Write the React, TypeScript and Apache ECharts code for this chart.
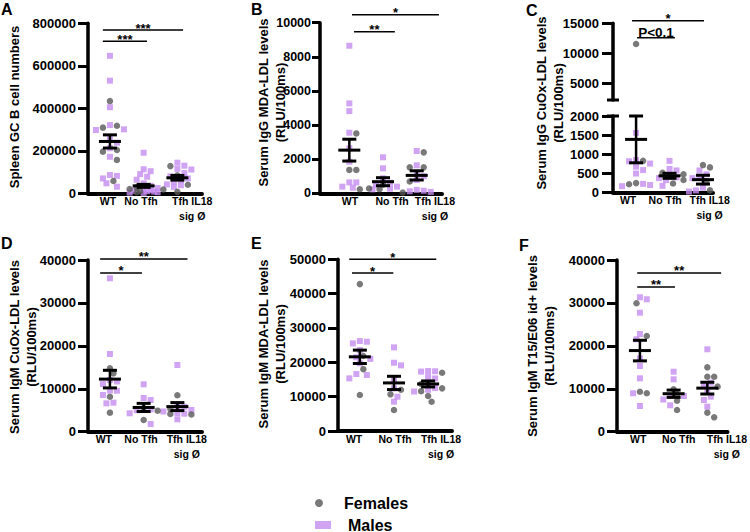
import React, { useEffect, useRef } from 'react';
import * as echarts from 'echarts';

// ---------- categories ----------
const GROUPS = ['WT', 'No Tfh', 'Tfh IL18\nsig Ø'];
const LEGEND = ['Females', 'Males'];

// ---------- Panel A: Spleen GC B cell numbers ----------
const A_WT_F = [434000, 318000, 309000, 204000, 196000, 157000, 58000];
const A_WT_M = [647000, 530000, 405000, 321000, 301000, 298000, 254000, 238000, 212000, 172000, 86000, 82000, 70000, 47000, 31000];
const A_NT_F = [28000, 20000, 10000, 5000];
const A_NT_M = [191000, 113000, 104000, 90000, 78000, 64000, 47000, 35000, 25000, 18000, 15000, 12000, 10000, 8000, 5000, 3000, 2000];
const A_TF_F = [128000, 85000, 40000, 18000, 7000];
const A_TF_M = [144000, 130000, 115000, 112000, 95000, 80000, 70000, 62000, 55000, 42000, 38000, 30000];
const A_MEAN = [244000, 35000, 73000];
const A_SEM = [31000, 7000, 11000];
const A_SIG = [[0.79, 3.17, 768000], [0.79, 2.1, 715000]];
const A_SIG_TEXT = ['***', '***'];

// ---------- Panel B: Serum IgG MDA-LDL ----------
const B_WT_F = [3510, 1370, 1370, 235];
const B_WT_M = [8650, 5270, 4820, 3550, 2640, 1850, 640, 640, 390, 330];
const B_NT_F = [500, 280, 240];
const B_NT_M = [2110, 1465, 880, 620, 500, 390, 270, 230];
const B_TF_F = [2400, 1520, 1520, 690, 50];
const B_TF_M = [2480, 1640, 1170, 1000, 780, 200, 120, 80, 150];
const B_MEAN = [2530, 680, 1050];
const B_SEM = [640, 235, 270];
const B_SIG = [[1.08, 3.66, 10470], [1.14, 2.35, 9470]];
const B_SIG_TEXT = ['*', '**'];

// ---------- Panel C: Serum IgG CuOx-LDL (broken axis) ----------
const C_WT_F = [11550, 830, 250, 220];
const C_WT_M = [1560, 850, 820, 760, 680, 590, 500, 230, 200, 170];
const C_NT_F = [520, 480, 330, 240];
const C_NT_M = [830, 620, 580, 420, 400, 380, 330, 180];
const C_TF_F = [720, 660, 470, 300, 60];
const C_TF_M = [580, 480, 400, 380, 300, 130, 60, 30, 30];
const C_MEAN = [1390, 440, 340];
const C_SEM = [610, 65, 115];
const C_SIG = [[0.88, 3.03, 15430], [1.03, 2.16, 12600]];
const C_SIG_TEXT = ['*', 'P<0.1'];
const C_UPPER_TICKS = [5000, 10000, 15000];

// ---------- Panel D: Serum IgM CuOx-LDL ----------
const D_WT_F = [14770, 13600, 8150, 4430];
const D_WT_M = [35740, 18100, 12050, 11700, 11100, 9600, 9550, 8550, 6760, 6600];
const D_NT_F = [5500, 4900, 2730];
const D_NT_M = [11040, 7850, 7390, 5220, 5000, 4290, 1790];
const D_TF_F = [8480, 5300, 4150, 4000];
const D_TF_M = [15540, 6000, 5800, 5060, 4720, 4300, 4200, 2880];
const D_MEAN = [12250, 5650, 5850];
const D_SEM = [2050, 950, 930];
const D_SIG = [[0.71, 3.3, 40240], [0.71, 1.95, 36980]];
const D_SIG_TEXT = ['**', '*'];

// ---------- Panel E: Serum IgM MDA-LDL ----------
const E_WT_F = [42780, 21830, 18000, 10480];
const E_WT_M = [26190, 26000, 25520, 23570, 21450, 21000, 19700, 16590, 16300, 15330];
const E_NT_F = [12000, 10680, 6110];
const E_NT_M = [24350, 19880, 19110, 15000, 12420, 9990, 8530];
const E_TF_F = [16970, 13680, 12420, 11600, 10190, 8530];
const E_TF_M = [17460, 17400, 17300, 15700, 15300, 13880, 12500, 12000, 11500];
const E_MEAN = [21600, 14000, 13700];
const E_SEM = [1950, 1930, 870];
const E_SIG = [[0.69, 3.24, 50050], [0.77, 1.98, 45980]];
const E_SIG_TEXT = ['*', '*'];

// ---------- Panel F: Serum IgM T15/E06 id+ ----------
const F_WT_F = [29920, 22300, 9320, 8950];
const F_WT_M = [31310, 30850, 27730, 22760, 21530, 17100, 15310, 12440, 8950, 5990];
const F_NT_F = [9880, 8700, 7220, 5060];
const F_NT_M = [13980, 12200, 8320, 8320, 7500, 6150];
const F_TF_F = [15000, 12810, 12810, 10500, 4430, 3350];
const F_TF_M = [19200, 11420, 11000, 9320, 8160, 7390, 5830];
const F_MEAN = [18900, 8850, 10150];
const F_SEM = [2400, 850, 1370];
const F_SIG = [[0.92, 3.41, 36980], [0.92, 2.04, 33710]];
const F_SIG_TEXT = ['**', '**'];

// ---------- styles ----------
const FEMALE_COLOR = '#575757';
const MALE_COLOR = '#c58cf0';
const FONT = '"Liberation Sans", Arial, Helvetica, sans-serif';

type Lay = {
  left: number; top: number; width: number; height: number;
  xMin: number; xMax: number; yMax: number; yInterval: number;
  labelX: number[]; tickLen: number; labelMargin: number; labelSize: number; letter: [number, number]; name: [number, number];
};

const PANELS = [
  { letter: 'A', name: 'Spleen GC B cell numbers', F: [A_WT_F, A_NT_F, A_TF_F], M: [A_WT_M, A_NT_M, A_TF_M], mean: A_MEAN, sem: A_SEM, sig: A_SIG, sigText: A_SIG_TEXT,
    lay: { left: 88, top: 23.3, width: 114, height: 170, xMin: 0.35, xMax: 3.73, yMax: 800000, yInterval: 200000, labelX: [0.94, 1.92, 3.44], tickLen: 10, labelMargin: 12, labelSize: 13, letter: [1, 1], name: [14, 107] } as Lay },
  { letter: 'B', name: 'Serum IgG MDA-LDL levels\n(RLU/100ms)', F: [B_WT_F, B_NT_F, B_TF_F], M: [B_WT_M, B_NT_M, B_TF_M], mean: B_MEAN, sem: B_SEM, sig: B_SIG, sigText: B_SIG_TEXT,
    lay: { left: 320, top: 22.7, width: 122, height: 170.6, xMin: 0.13, xMax: 3.75, yMax: 10000, yInterval: 2000, labelX: [1.02, 2.27, 3.54], tickLen: 8, labelMargin: 9, labelSize: 12.5, letter: [251, 1], name: [272, 102.5] } as Lay },
  { letter: 'C', name: 'Serum IgG CuOx-LDL levels\n(RLU/100ms)', F: [C_WT_F, C_NT_F, C_TF_F], M: [C_WT_M, C_NT_M, C_TF_M], mean: C_MEAN, sem: C_SEM, sig: C_SIG, sigText: C_SIG_TEXT,
    lay: { left: 613, top: 116, width: 100, height: 76.7, xMin: 0.31, xMax: 3.3, yMax: 2000, yInterval: 500, labelX: [0.76, 1.87, 3.2], tickLen: 11, labelMargin: 14, labelSize: 13, letter: [526, 2], name: [550, 103] } as Lay,
    upper: { top: 23.3, height: 76.7, yMin: 2200, yMax: 15000 } },
  { letter: 'D', name: 'Serum IgM CuOx-LDL levels\n(RLU/100ms)', F: [D_WT_F, D_NT_F, D_TF_F], M: [D_WT_M, D_NT_M, D_TF_M], mean: D_MEAN, sem: D_SEM, sig: D_SIG, sigText: D_SIG_TEXT,
    lay: { left: 88, top: 260, width: 114, height: 171.7, xMin: 0.35, xMax: 3.73, yMax: 40000, yInterval: 10000, labelX: [0.82, 1.92, 3.28], tickLen: 10, labelMargin: 12, labelSize: 13, letter: [1, 235], name: [23, 347] } as Lay },
  { letter: 'E', name: 'Serum IgM MDA-LDL levels\n(RLU/100ms)', F: [E_WT_F, E_NT_F, E_TF_F], M: [E_WT_M, E_NT_M, E_TF_M], mean: E_MEAN, sem: E_SEM, sig: E_SIG, sigText: E_SIG_TEXT,
    lay: { left: 338, top: 259.3, width: 114, height: 171.7, xMin: 0.36, xMax: 3.7, yMax: 50000, yInterval: 10000, labelX: [0.83, 2.03, 3.38], tickLen: 10, labelMargin: 12, labelSize: 13, letter: [251, 235], name: [271.5, 344] } as Lay },
  { letter: 'F', name: 'Serum IgM T15/E06 id+ levels\n(RLU/100ms)', F: [F_WT_F, F_NT_F, F_TF_F], M: [F_WT_M, F_NT_M, F_TF_M], mean: F_MEAN, sem: F_SEM, sig: F_SIG, sigText: F_SIG_TEXT,
    lay: { left: 617, top: 260, width: 113, height: 171.7, xMin: 0.32, xMax: 3.6, yMax: 40000, yInterval: 10000, labelX: [0.95, 2.15, 3.58], tickLen: 10, labelMargin: 12, labelSize: 13, letter: [519, 237], name: [540.5, 346] } as Lay },
];

// beeswarm layout (pixel space) -> x offsets in category units
function swarm(vals: number[], pxPerVal: number, pxPerUnit: number): number[] {
  const order = vals.map((_, i) => i).sort((a, b) => vals[b] - vals[a]);
  const placed: [number, number][] = [];
  const out = new Array(vals.length).fill(0);
  const cands = [0, 3.5, -3.5, 7, -7, 10.5, -10.5, 14, -14];
  const D = 6;
  for (const i of order) {
    const y = vals[i] * pxPerVal;
    let best = 0, bestD = -1;
    for (const c of cands) {
      let md = Infinity;
      for (const [px, py] of placed) md = Math.min(md, Math.hypot(px - c, py - y));
      if (md >= D) { best = c; break; }
      if (md > bestD) { bestD = md; best = c; }
    }
    placed.push([best, y]);
    out[i] = best / pxPerUnit;
  }
  return out;
}

function buildOption() {
  const grid: any[] = [], xAxis: any[] = [], yAxis: any[] = [], series: any[] = [], graphic: any[] = [];

  const addGrid = (left: number, top: number, width: number, height: number, xMin: number, xMax: number,
    yMin: number, yMax: number, yInterval: number | null, custom: number[] | null, tickLen: number, labelMargin: number, labelSize: number, labelX: number[] | null) => {
    const idx = grid.length;
    grid.push({ left, top, width, height, containLabel: false });
    xAxis.push({
      type: 'value', gridIndex: idx, min: xMin, max: xMax, show: !!labelX,
      axisLine: { show: true, onZero: false, lineStyle: { color: '#000', width: 4 } },
      axisTick: { show: false }, splitLine: { show: false },
      axisLabel: labelX ? {
        customValues: labelX,
        formatter: (v: number) => {
          let bi = 0, bd = Infinity;
          labelX.forEach((lx, i) => { const d = Math.abs(lx - v); if (d < bd) { bd = d; bi = i; } });
          return GROUPS[bi];
        },
        fontSize: 10.5, fontWeight: 'bold', color: '#000', fontFamily: FONT, lineHeight: 15, margin: 0,
      } : { show: false },
    });
    const yAx: any = {
      type: 'value', gridIndex: idx, min: yMin, max: yMax,
      axisLine: { show: true, onZero: false, lineStyle: { color: '#000', width: 3.5 } },
      axisTick: { show: true, length: tickLen, lineStyle: { color: '#000', width: 3 } },
      splitLine: { show: false },
      axisLabel: { formatter: (v: number) => String(v), fontSize: labelSize, fontWeight: 'bold', color: '#000', fontFamily: FONT, margin: labelMargin },
    };
    if (custom) {
      yAx.axisTick.customValues = custom;
      yAx.axisLabel.customValues = custom;
    } else {
      yAx.interval = yInterval;
    }
    yAxis.push(yAx);
    return idx;
  };

  const addScatter = (idx: number, fData: number[][], mData: number[][]) => {
    series.push({ type: 'scatter', name: 'Males', xAxisIndex: idx, yAxisIndex: idx, data: mData, symbol: 'rect', symbolSize: 6, itemStyle: { color: MALE_COLOR }, z: 3 });
    series.push({ type: 'scatter', name: 'Females', xAxisIndex: idx, yAxisIndex: idx, data: fData, symbol: 'circle', symbolSize: 6.5, itemStyle: { color: FEMALE_COLOR }, z: 4 });
  };

  const addMean = (idx: number, mean: number[], sem: number[]) => {
    series.push({
      type: 'custom', xAxisIndex: idx, yAxisIndex: idx, z: 6,
      data: mean.map((m, i) => [i + 1, m, sem[i]]),
      renderItem: (params: any, api: any) => {
        const x = api.value(0), m = api.value(1), s = api.value(2);
        const c = api.coord([x, m]), t = api.coord([x, m + s]), b = api.coord([x, m - s]);
        const st = { stroke: '#000', lineWidth: 3 };
        return {
          type: 'group', children: [
            { type: 'line', shape: { x1: c[0] - 11, y1: c[1], x2: c[0] + 11, y2: c[1] }, style: st },
            { type: 'line', shape: { x1: c[0], y1: t[1], x2: c[0], y2: b[1] }, style: { stroke: '#000', lineWidth: 2.5 } },
            { type: 'line', shape: { x1: c[0] - 7, y1: t[1], x2: c[0] + 7, y2: t[1] }, style: st },
            { type: 'line', shape: { x1: c[0] - 7, y1: b[1], x2: c[0] + 7, y2: b[1] }, style: st },
          ],
        };
      },
    });
  };

  const addSig = (idx: number, sig: number[][], texts: string[]) => {
    series.push({
      type: 'custom', xAxisIndex: idx, yAxisIndex: idx, z: 7,
      data: sig,
      renderItem: (params: any, api: any) => {
        const p1 = api.coord([api.value(0), api.value(2)]);
        const p2 = api.coord([api.value(1), api.value(2)]);
        const t = texts[params.dataIndex];
        const isP = t.startsWith('P');
        return {
          type: 'group', children: [
            { type: 'line', shape: { x1: p1[0], y1: p1[1], x2: p2[0], y2: p1[1] }, style: { stroke: '#000', lineWidth: 1.5 } },
            { type: 'text', x: (p1[0] + p2[0]) / 2, y: p1[1] - (isP ? 5.2 : 2),
              style: { text: t, align: 'center', verticalAlign: 'middle', font: `bold ${isP ? 13.5 : 13}px ${FONT}`, lineHeight: isP ? 13 : 9, fill: '#000' } },
          ],
        };
      },
    });
  };

  PANELS.forEach((p: any) => {
    const L: Lay = p.lay;
    const pxPerUnit = L.width / (L.xMax - L.xMin);
    graphic.push({ type: 'text', x: L.letter[0], y: L.letter[1], style: { text: p.letter, font: `bold 16px ${FONT}`, fill: '#000', verticalAlign: 'top' } });
    graphic.push({ type: 'text', x: L.name[0], y: L.name[1], rotation: Math.PI / 2,
      style: { text: p.name, font: `bold 13px ${FONT}`, lineHeight: 17, fill: '#000', align: 'center', verticalAlign: 'middle' } });

    if (!p.upper) {
      const idx = addGrid(L.left, L.top, L.width, L.height, L.xMin, L.xMax, 0, L.yMax, L.yInterval, null, L.tickLen, L.labelMargin, L.labelSize, L.labelX);
      const pxPerVal = L.height / L.yMax;
      const fData: number[][] = [], mData: number[][] = [];
      for (let g = 0; g < 3; g++) {
        const vals = [...p.F[g], ...p.M[g]];
        const off = swarm(vals, pxPerVal, pxPerUnit);
        vals.forEach((v: number, i: number) => {
          (i < p.F[g].length ? fData : mData).push([g + 1 + off[i], v]);
        });
      }
      addScatter(idx, fData, mData);
      addMean(idx, p.mean, p.sem);
      addSig(idx, p.sig, p.sigText);
    } else {
      const U = p.upper;
      const up = addGrid(L.left, U.top, L.width, U.height, L.xMin, L.xMax, U.yMin, U.yMax, null, C_UPPER_TICKS, L.tickLen, L.labelMargin, L.labelSize, null);
      const lo = addGrid(L.left, L.top, L.width, L.height, L.xMin, L.xMax, 0, L.yMax, L.yInterval, null, L.tickLen, L.labelMargin, L.labelSize, L.labelX);
      const pxLo = L.height / L.yMax;
      const pxUp = U.height / (U.yMax - U.yMin);
      const fU: number[][] = [], mU: number[][] = [], fL: number[][] = [], mL: number[][] = [];
      for (let g = 0; g < 3; g++) {
        const vals = [...p.F[g], ...p.M[g]];
        const isF = vals.map((_: number, i: number) => i < p.F[g].length);
        const lowIdx = vals.map((v: number, i: number) => i).filter((i: number) => vals[i] <= L.yMax);
        const upIdx = vals.map((v: number, i: number) => i).filter((i: number) => vals[i] > L.yMax);
        const offL = swarm(lowIdx.map((i: number) => vals[i]), pxLo, pxPerUnit);
        const offU = swarm(upIdx.map((i: number) => vals[i]), pxUp, pxPerUnit);
        lowIdx.forEach((i: number, k: number) => (isF[i] ? fL : mL).push([g + 1 + offL[k], vals[i]]));
        upIdx.forEach((i: number, k: number) => (isF[i] ? fU : mU).push([g + 1 + offU[k], vals[i]]));
      }
      addScatter(up, fU, mU);
      addScatter(lo, fL, mL);
      addMean(lo, p.mean, p.sem);
      addSig(up, p.sig, p.sigText);
      // axis break caps
      graphic.push({ type: 'line', shape: { x1: L.left - 6, y1: U.top + U.height, x2: L.left + 6, y2: U.top + U.height }, style: { stroke: '#000', lineWidth: 3 } });
      graphic.push({ type: 'line', shape: { x1: L.left - 6, y1: L.top, x2: L.left + 6, y2: L.top }, style: { stroke: '#000', lineWidth: 3 } });
    }
  });

  const legendBase = {
    orient: 'vertical', left: 310, itemWidth: 16, itemHeight: 8, selectedMode: false,
    textStyle: { fontSize: 16, fontWeight: 'bold', color: '#000', fontFamily: FONT, padding: [0, 0, 0, 12] },
  };

  return {
    animation: false,
    backgroundColor: '#ffffff',
    grid, xAxis, yAxis, series, graphic,
    legend: [
      { ...legendBase, data: [LEGEND[0]], top: 490 },
      { ...legendBase, data: [LEGEND[1]], top: 512 },
    ],
  };
}

export default function App() {
  const ref = useRef<HTMLDivElement>(null);
  useEffect(() => {
    if (!ref.current) return;
    const chart = echarts.init(ref.current, undefined, { renderer: 'svg' });
    chart.setOption(buildOption() as any);
    return () => chart.dispose();
  }, []);
  return <div ref={ref} style={{ position: 'absolute', left: 0, top: 0, width: 750, height: 532, background: '#fff' }} />;
}
